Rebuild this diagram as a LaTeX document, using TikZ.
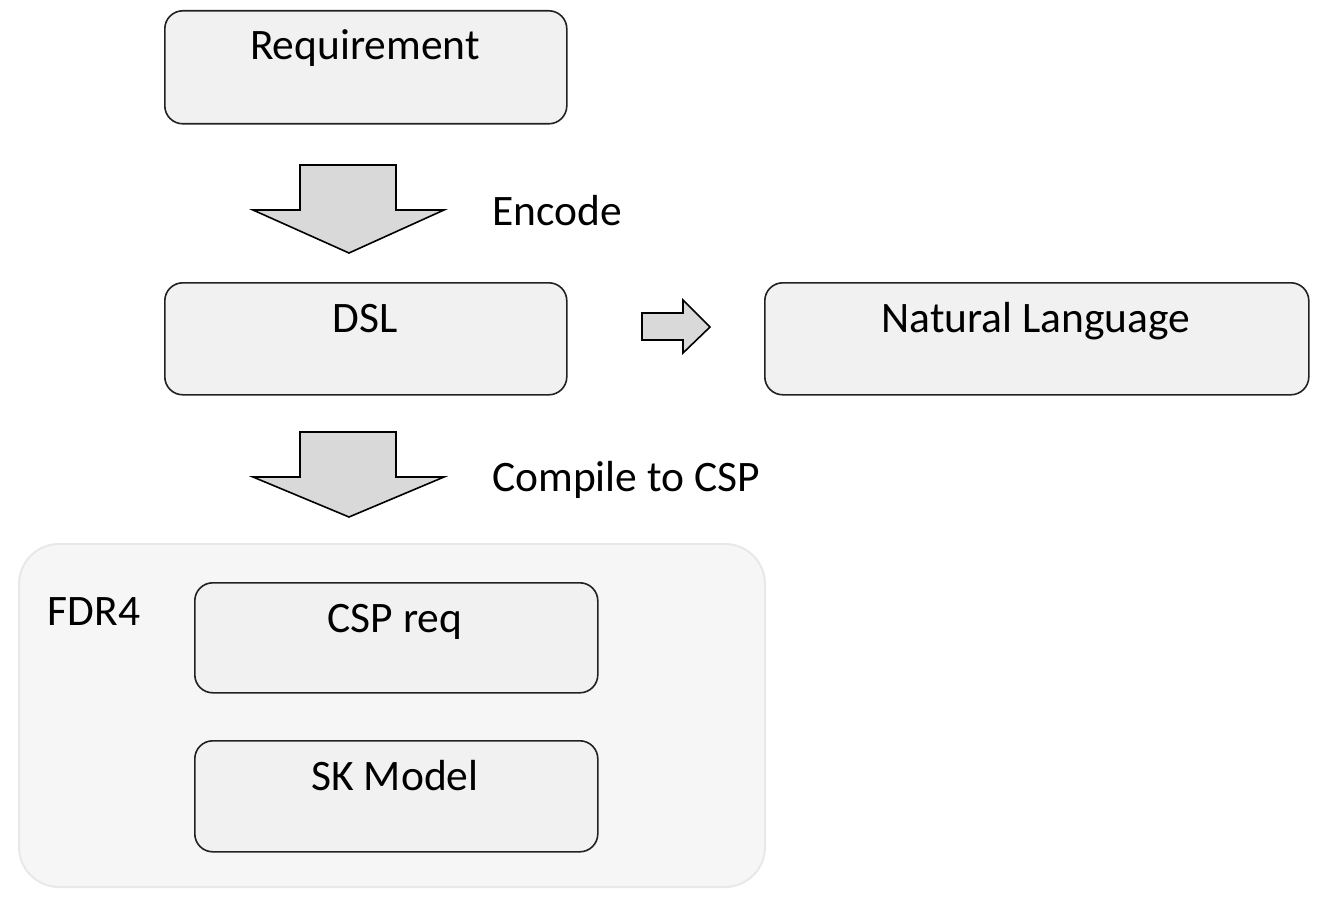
\documentclass[tikz,border=0pt]{standalone}
\usepackage{fontspec}
\setmainfont{Carlito}
\definecolor{boxfill}{HTML}{F0F1F0}
\definecolor{boxline}{HTML}{222222}
\definecolor{arrowfill}{HTML}{D9D9D9}
\definecolor{contfill}{HTML}{F6F6F6}
\definecolor{contline}{HTML}{E8E8E8}
\begin{document}
\begin{tikzpicture}[x=1pt,y=-1pt,
  stepbox/.style={draw=boxline,fill=boxfill,line width=1.6pt,rounded corners=18pt,
    anchor=north west,inner sep=0pt},
  lbl/.style={font=\fontsize{43.5}{50}\selectfont,anchor=base,inner sep=0pt},
  blockarrow/.style={draw=black,fill=arrowfill,line width=1.6pt,line join=miter}]
\useasboundingbox (0,0) rectangle (1327,901);
% container
\node[draw=contline,fill=contfill,line width=2pt,rounded corners=40pt,anchor=north west,
  minimum width=746pt,minimum height=343pt,inner sep=0pt] (fdr) at (18,543) {};
\node[lbl] (fdrlbl) at (94,625) {FDR4};
% boxes
\node[stepbox,minimum width=402pt,minimum height=113pt] (req) at (164,10) {};
\node[lbl] (reqlbl) at (365,60) {Requirement};
\node[stepbox,minimum width=402pt,minimum height=112pt] (dsl) at (164,282) {};
\node[lbl] (dsllbl) at (365,332) {DSL};
\node[stepbox,minimum width=544pt,minimum height=112pt] (nl) at (764,282) {};
\node[lbl] (nllbl) at (1036,332) {Natural Language};
\node[stepbox,minimum width=403pt,minimum height=110pt] (csp) at (194,582) {};
\node[lbl] (csplbl) at (395,632) {CSP req};
\node[stepbox,minimum width=403pt,minimum height=111pt] (sk) at (194,740) {};
\node[lbl] (sklbl) at (395,790) {SK Model};
% labels of arrows
\node[lbl,anchor=base west] (enc) at (492,226) {Encode};
\node[lbl,anchor=base west] (comp) at (492,491) {Compile to CSP};
% block arrows
\draw[blockarrow] (300,165) -- (396,165) -- (396,210) -- (444,210) -- (349,253)
  -- (253,210) -- (300,210) -- cycle;
\draw[blockarrow] (300,432) -- (396,432) -- (396,477) -- (444,477) -- (349,517)
  -- (253,477) -- (300,477) -- cycle;
\draw[blockarrow] (642,313) -- (683,313) -- (683,300) -- (710,327) -- (683,353)
  -- (683,340) -- (642,340) -- cycle;
\end{tikzpicture}
\end{document}
